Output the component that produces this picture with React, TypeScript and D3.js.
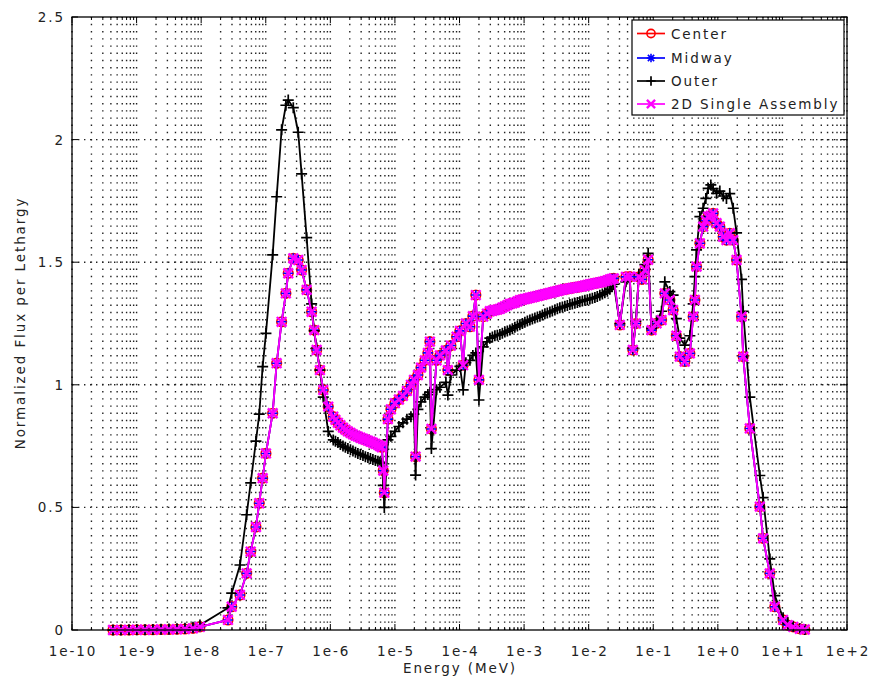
import React from 'react';
import * as d3 from 'd3';

// Energy grid (MeV), one line per region of the spectrum
const energyMeV = [
  4.31e-10, 5.73e-10, 7.63e-10, 1.01e-9, 1.35e-9, 1.79e-9, 2.39e-9, 3.17e-9, 4.22e-9, 5.61e-9, 7.47e-9, 9.58e-9,
  2.6e-8, 2.97e-8, 3.99e-8, 5.06e-8, 5.84e-8, 7.05e-8, 7.93e-8, 8.95e-8, 1.007e-7, 1.28e-7, 1.475e-7, 1.76e-7, 2.05e-7, 2.23e-7, 2.67e-7, 3.18e-7, 3.59e-7, 4.3e-7, 5.13e-7, 5.63e-7, 6.14e-7, 6.9e-7, 7.77e-7, 9.28e-7,
  1.11e-6, 1.2e-6, 1.31e-6, 1.43e-6, 1.57e-6, 1.71e-6, 1.87e-6, 2.05e-6, 2.24e-6, 2.45e-6, 2.67e-6, 2.92e-6, 3.2e-6, 3.49e-6, 3.82e-6, 4.18e-6, 4.56e-6, 4.99e-6, 5.46e-6, 5.86e-6, 6.29e-6,
  6.6e-6, 6.85e-6, 7.79e-6, 8.67e-6, 1.0e-5, 1.153e-5, 1.33e-5, 1.534e-5, 1.77e-5, 1.97e-5, 2.09e-5, 2.27e-5, 2.53e-5, 2.91e-5, 3.24e-5, 3.48e-5, 3.67e-5, 4.42e-5, 4.97e-5, 6.16e-5, 6.61e-5, 7.36e-5, 9.02e-5, 1.014e-4, 1.14e-4, 1.256e-4, 1.45e-4, 1.61e-4, 1.79e-4, 2.0e-4, 2.33e-4, 2.66e-4,
  2.95e-4, 3.23e-4, 3.53e-4, 3.86e-4, 4.22e-4, 4.61e-4, 5.04e-4, 5.51e-4, 6.03e-4, 6.59e-4, 7.2e-4, 7.88e-4, 8.61e-4, 9.41e-4, 1.029e-3, 1.125e-3, 1.23e-3, 1.345e-3, 1.47e-3, 1.61e-3, 1.76e-3, 1.92e-3, 2.1e-3, 2.29e-3, 2.51e-3, 2.74e-3, 3.0e-3, 3.28e-3, 3.58e-3, 3.92e-3, 4.28e-3, 4.68e-3, 5.12e-3, 5.59e-3, 6.12e-3, 6.69e-3, 7.31e-3, 7.99e-3, 8.74e-3, 9.55e-3, 1.044e-2, 1.141e-2, 1.248e-2, 1.36e-2, 1.49e-2, 1.63e-2, 1.78e-2, 1.95e-2, 2.13e-2, 2.29e-2, 2.45e-2,
  3.04e-2, 3.77e-2, 4.34e-2, 4.83e-2, 5.38e-2, 5.98e-2, 6.66e-2, 7.41e-2, 8.34e-2, 9.41e-2, 1.125e-1, 1.345e-1, 1.51e-1, 1.81e-1, 2.03e-1, 2.28e-1, 2.58e-1, 3.08e-1, 3.69e-1, 4.15e-1, 4.41e-1, 4.68e-1, 5.27e-1, 5.92e-1, 6.52e-1, 7.08e-1, 7.79e-1, 8.46e-1, 9.55e-1, 1.074, 1.21, 1.36, 1.53, 1.73, 1.95, 2.33, 2.47, 3.13, 4.47, 5.02, 6.38, 7.63, 10.25, 12.1, 14.7, 18.6, 22.2,
];

const centerFlux = [
  0.0, 0.0, 0.0, 0.001, 0.001, 0.001, 0.002, 0.002, 0.003, 0.004, 0.007, 0.013,
  0.041, 0.095, 0.143, 0.231, 0.32, 0.42, 0.517, 0.619, 0.72, 0.884, 1.088, 1.257, 1.373, 1.455, 1.516, 1.509, 1.468, 1.387, 1.298, 1.223, 1.142, 1.06, 0.979, 0.911,
  0.87, 0.857, 0.845, 0.835, 0.825, 0.817, 0.81, 0.804, 0.798, 0.793, 0.789, 0.784, 0.78, 0.776, 0.772, 0.768, 0.764, 0.759, 0.755, 0.75, 0.745,
  0.65, 0.56, 0.86, 0.9, 0.925, 0.94, 0.955, 0.975, 1.0, 1.02, 0.707, 1.04, 1.07, 1.1, 1.13, 1.176, 0.82, 1.1, 1.12, 1.14, 1.06, 1.16, 1.196, 1.22, 1.08, 1.25, 1.237, 1.28, 1.366, 1.02, 1.278, 1.29,
  1.3, 1.302, 1.305, 1.307, 1.31, 1.315, 1.32, 1.325, 1.33, 1.332, 1.335, 1.34, 1.345, 1.347, 1.35, 1.352, 1.355, 1.357, 1.36, 1.362, 1.365, 1.367, 1.37, 1.372, 1.375, 1.377, 1.38, 1.382, 1.385, 1.387, 1.39, 1.391, 1.393, 1.395, 1.397, 1.398, 1.4, 1.402, 1.405, 1.407, 1.41, 1.412, 1.414, 1.416, 1.418, 1.42, 1.423, 1.426, 1.43, 1.432, 1.434,
  1.244, 1.44, 1.441, 1.142, 1.25, 1.44, 1.43, 1.468, 1.51, 1.223, 1.251, 1.264, 1.373, 1.346, 1.305, 1.2, 1.115, 1.095, 1.128, 1.278, 1.346, 1.482, 1.577, 1.645, 1.67, 1.686, 1.69, 1.699, 1.659, 1.645, 1.604, 1.59, 1.618, 1.59, 1.509, 1.278, 1.115, 0.822, 0.503, 0.374, 0.231, 0.095, 0.041, 0.02, 0.013, 0.005, 0.002,
];

const midwayFlux = [
  0.0, 0.0, 0.0, 0.001, 0.001, 0.001, 0.002, 0.002, 0.003, 0.004, 0.007, 0.013,
  0.041, 0.095, 0.143, 0.231, 0.32, 0.42, 0.517, 0.619, 0.72, 0.884, 1.088, 1.257, 1.373, 1.455, 1.516, 1.509, 1.468, 1.387, 1.298, 1.223, 1.142, 1.06, 0.979, 0.911,
  0.87, 0.857, 0.845, 0.835, 0.825, 0.817, 0.81, 0.804, 0.798, 0.793, 0.789, 0.784, 0.78, 0.776, 0.772, 0.768, 0.764, 0.759, 0.755, 0.75, 0.745,
  0.65, 0.56, 0.86, 0.9, 0.925, 0.94, 0.955, 0.975, 1.0, 1.02, 0.707, 1.04, 1.07, 1.1, 1.13, 1.176, 0.82, 1.1, 1.12, 1.14, 1.06, 1.16, 1.196, 1.22, 1.08, 1.25, 1.237, 1.28, 1.366, 1.02, 1.278, 1.29,
  1.3, 1.302, 1.305, 1.307, 1.31, 1.315, 1.32, 1.325, 1.33, 1.332, 1.335, 1.34, 1.345, 1.347, 1.35, 1.352, 1.355, 1.357, 1.36, 1.362, 1.365, 1.367, 1.37, 1.372, 1.375, 1.377, 1.38, 1.382, 1.385, 1.387, 1.39, 1.391, 1.393, 1.395, 1.397, 1.398, 1.4, 1.402, 1.405, 1.407, 1.41, 1.412, 1.414, 1.416, 1.418, 1.42, 1.423, 1.426, 1.43, 1.432, 1.434,
  1.244, 1.44, 1.441, 1.142, 1.25, 1.44, 1.43, 1.468, 1.51, 1.223, 1.251, 1.264, 1.373, 1.346, 1.305, 1.2, 1.115, 1.095, 1.128, 1.278, 1.346, 1.482, 1.577, 1.645, 1.67, 1.686, 1.69, 1.699, 1.659, 1.645, 1.604, 1.59, 1.618, 1.59, 1.509, 1.278, 1.115, 0.822, 0.503, 0.374, 0.231, 0.095, 0.041, 0.02, 0.013, 0.005, 0.002,
];

const outerFlux = [
  0.0, 0.0, 0.001, 0.001, 0.001, 0.002, 0.003, 0.004, 0.005, 0.007, 0.011, 0.02,
  0.09, 0.15, 0.265, 0.47, 0.6, 0.77, 0.88, 1.074, 1.21, 1.53, 1.767, 2.04, 2.14, 2.161, 2.13, 2.03, 1.86, 1.6, 1.33, 1.22, 1.15, 1.06, 0.95, 0.81,
  0.775, 0.77, 0.765, 0.757, 0.75, 0.745, 0.74, 0.735, 0.73, 0.725, 0.72, 0.716, 0.712, 0.707, 0.703, 0.699, 0.695, 0.691, 0.688, 0.684, 0.68,
  0.59, 0.5, 0.775, 0.79, 0.81, 0.83, 0.845, 0.86, 0.87, 0.88, 0.632, 0.9, 0.93, 0.95, 0.96, 0.97, 0.74, 0.98, 0.99, 1.01, 0.958, 1.04, 1.06, 1.075, 0.979, 1.09, 1.1, 1.12, 1.13, 0.938, 1.155, 1.175,
  1.19, 1.195, 1.2, 1.202, 1.205, 1.21, 1.215, 1.219, 1.223, 1.229, 1.235, 1.24, 1.245, 1.25, 1.255, 1.26, 1.264, 1.268, 1.272, 1.276, 1.28, 1.285, 1.29, 1.293, 1.297, 1.301, 1.305, 1.31, 1.314, 1.317, 1.32, 1.323, 1.327, 1.33, 1.333, 1.336, 1.339, 1.342, 1.345, 1.347, 1.35, 1.353, 1.356, 1.36, 1.365, 1.37, 1.375, 1.382, 1.39, 1.4, 1.41,
  1.25, 1.42, 1.43, 1.15, 1.26, 1.45, 1.45, 1.49, 1.536, 1.23, 1.26, 1.3, 1.42, 1.38, 1.366, 1.27, 1.19, 1.162, 1.2, 1.33, 1.441, 1.55, 1.686, 1.72, 1.76, 1.801, 1.815, 1.8, 1.781, 1.79, 1.77, 1.76, 1.78, 1.72, 1.62, 1.43, 1.3, 0.95, 0.63, 0.54, 0.29, 0.14, 0.05, 0.025, 0.015, 0.005, 0.002,
];

const singleAssemblyFlux = [
  0.0, 0.0, 0.0, 0.001, 0.001, 0.001, 0.002, 0.002, 0.003, 0.004, 0.007, 0.013,
  0.041, 0.095, 0.143, 0.231, 0.32, 0.42, 0.517, 0.619, 0.72, 0.884, 1.088, 1.257, 1.373, 1.455, 1.516, 1.509, 1.468, 1.387, 1.298, 1.223, 1.142, 1.06, 0.979, 0.911,
  0.87, 0.857, 0.845, 0.835, 0.825, 0.817, 0.81, 0.804, 0.798, 0.793, 0.789, 0.784, 0.78, 0.776, 0.772, 0.768, 0.764, 0.759, 0.755, 0.75, 0.745,
  0.65, 0.56, 0.86, 0.9, 0.925, 0.94, 0.955, 0.975, 1.0, 1.02, 0.707, 1.04, 1.07, 1.1, 1.13, 1.176, 0.82, 1.1, 1.12, 1.14, 1.06, 1.16, 1.196, 1.22, 1.08, 1.25, 1.237, 1.28, 1.366, 1.02, 1.278, 1.29,
  1.3, 1.302, 1.305, 1.307, 1.31, 1.315, 1.32, 1.325, 1.33, 1.332, 1.335, 1.34, 1.345, 1.347, 1.35, 1.352, 1.355, 1.357, 1.36, 1.362, 1.365, 1.367, 1.37, 1.372, 1.375, 1.377, 1.38, 1.382, 1.385, 1.387, 1.39, 1.391, 1.393, 1.395, 1.397, 1.398, 1.4, 1.402, 1.405, 1.407, 1.41, 1.412, 1.414, 1.416, 1.418, 1.42, 1.423, 1.426, 1.43, 1.432, 1.434,
  1.244, 1.44, 1.441, 1.142, 1.25, 1.44, 1.43, 1.468, 1.51, 1.223, 1.251, 1.264, 1.373, 1.346, 1.305, 1.2, 1.115, 1.095, 1.128, 1.278, 1.346, 1.482, 1.577, 1.645, 1.67, 1.686, 1.69, 1.699, 1.659, 1.645, 1.604, 1.59, 1.618, 1.59, 1.509, 1.278, 1.115, 0.822, 0.503, 0.374, 0.231, 0.095, 0.041, 0.02, 0.013, 0.005, 0.002,
];

const xTickValues = [1e-10, 1e-9, 1e-8, 1e-7, 1e-6, 1e-5, 1e-4, 1e-3, 1e-2, 1e-1, 1e0, 1e1, 1e2];
const xTickLabels = ['1e-10', '1e-9', '1e-8', '1e-7', '1e-6', '1e-5', '1e-4', '1e-3', '1e-2', '1e-1', '1e+0', '1e+1', '1e+2'];
const yTickValues = [0, 0.5, 1, 1.5, 2, 2.5];
const yTickLabels = ['0', '0.5', '1', '1.5', '2', '2.5'];

const seriesNames = ['Center', 'Midway', 'Outer', '2D Single Assembly'];
const seriesColors = ['#ff0000', '#0000ff', '#000000', '#ff00ff'];
const seriesMarkers = ['circle', 'asterisk', 'plus', 'cross'];
const seriesValues = [centerFlux, midwayFlux, outerFlux, singleAssemblyFlux];

const W = 876;
const H = 681;
const L = 72, R = 847, T = 17, B = 630;
const FONT = '"DejaVu Sans", sans-serif';

function Marker({ type, cx, cy, color, scale = 1 }: { type: string; cx: number; cy: number; color: string; scale?: number }) {
  if (type === 'circle') {
    return <circle cx={cx} cy={cy} r={4.8 * scale} fill="none" stroke={color} strokeWidth={1.6} />;
  }
  let d = '';
  let sw = 1.6;
  if (type === 'plus') {
    const s = 5.5 * scale;
    d = `M${cx - s},${cy}L${cx + s},${cy}M${cx},${cy - s}L${cx},${cy + s}`;
    sw = 1.7;
  } else if (type === 'cross') {
    const s = 4.8 * scale;
    d = `M${cx - s},${cy - s}L${cx + s},${cy + s}M${cx - s},${cy + s}L${cx + s},${cy - s}`;
    sw = 2.4;
  } else if (type === 'asterisk') {
    const s = 5 * scale, a = 3.7 * scale;
    d = `M${cx - s},${cy}L${cx + s},${cy}M${cx},${cy - s}L${cx},${cy + s}M${cx - a},${cy - a}L${cx + a},${cy + a}M${cx - a},${cy + a}L${cx + a},${cy - a}`;
  }
  return <path d={d} fill="none" stroke={color} strokeWidth={sw} />;
}

export default function App() {
  const x = d3.scaleLog().domain([1e-10, 1e2]).range([L, R]);
  const y = d3.scaleLinear().domain([0, 2.5]).range([B, T]);

  const minorTicks: number[] = [];
  for (let d = -10; d < 2; d++) {
    for (let k = 2; k <= 9; k++) minorTicks.push(k * Math.pow(10, d));
  }

  const n = Math.min(energyMeV.length, ...seriesValues.map((s) => s.length));
  const idx = d3.range(n);

  const textStyle: React.CSSProperties = { fontFamily: FONT, fontSize: 13.5, letterSpacing: 1.9, fill: '#222' };

  const legendX = 632, legendY = 20, legendW = 212, legendH = 95;
  const legendRows = [33.5, 58, 81, 104];

  return (
    <svg width={W} height={H} style={{ position: 'absolute', left: 0, top: 0, background: '#fff' }}>
      <rect x={0} y={0} width={W} height={H} fill="#fff" />
      {/* grid */}
      <g stroke="#222" strokeWidth={1.4}>
        {[...xTickValues, ...minorTicks].map((t, i) => (
          <line key={'gx' + i} x1={x(t)} x2={x(t)} y1={B} y2={T} strokeDasharray="1.4,5.8" />
        ))}
        {yTickValues.slice(1, -1).map((t, i) => (
          <line key={'gy' + i} x1={L} x2={R} y1={y(t)} y2={y(t)} strokeDasharray="1.4,4.6" />
        ))}
      </g>
      {/* ticks */}
      <g stroke="#000" strokeWidth={1}>
        {xTickValues.map((t, i) => (
          <g key={'tx' + i}>
            <line x1={x(t)} x2={x(t)} y1={B} y2={B - 6} />
            <line x1={x(t)} x2={x(t)} y1={T} y2={T + 6} />
          </g>
        ))}
        {minorTicks.map((t, i) => (
          <g key={'mx' + i}>
            <line x1={x(t)} x2={x(t)} y1={B} y2={B - 3} />
            <line x1={x(t)} x2={x(t)} y1={T} y2={T + 3} />
          </g>
        ))}
        {yTickValues.map((t, i) => (
          <g key={'ty' + i}>
            <line x1={L} x2={L + 6} y1={y(t)} y2={y(t)} />
            <line x1={R} x2={R - 6} y1={y(t)} y2={y(t)} />
          </g>
        ))}
      </g>
      {/* series */}
      {seriesValues.map((vals, si) => {
        const line = d3
          .line<number>()
          .x((i) => x(energyMeV[i]))
          .y((i) => y(vals[i]));
        return (
          <g key={'s' + si}>
            <path d={line(idx) || ''} fill="none" stroke={seriesColors[si]} strokeWidth={1.8} />
            {idx.map((i) => (
              <Marker key={i} type={seriesMarkers[si]} cx={x(energyMeV[i])} cy={y(vals[i])} color={seriesColors[si]} />
            ))}
          </g>
        );
      })}
      {/* axes box */}
      <rect x={L} y={T} width={R - L} height={B - T} fill="none" stroke="#000" strokeWidth={1.3} />
      {/* tick labels */}
      {xTickValues.map((t, i) => (
        <text key={'lx' + i} x={x(t) + 1} y={656} textAnchor="middle" style={textStyle}>
          {xTickLabels[i]}
        </text>
      ))}
      {yTickValues.map((t, i) => (
        <text key={'ly' + i} x={65} y={y(t) + 5} textAnchor="end" style={textStyle}>
          {yTickLabels[i]}
        </text>
      ))}
      <text x={460} y={673} textAnchor="middle" style={textStyle}>
        Energy (MeV)
      </text>
      <text transform="translate(25,323) rotate(-90)" textAnchor="middle" style={textStyle}>
        Normalized Flux per Lethargy
      </text>
      {/* legend */}
      <rect x={legendX} y={legendY} width={legendW} height={legendH} fill="#fff" stroke="#000" strokeWidth={1.2} />
      {seriesNames.map((name, i) => (
        <g key={'lg' + i}>
          <line x1={637} x2={665} y1={legendRows[i]} y2={legendRows[i]} stroke={seriesColors[i]} strokeWidth={1.7} />
          <Marker type={seriesMarkers[i]} cx={651} cy={legendRows[i]} color={seriesColors[i]} scale={0.85} />
          <text x={671} y={legendRows[i] + 5} style={textStyle}>
            {name}
          </text>
        </g>
      ))}
    </svg>
  );
}
